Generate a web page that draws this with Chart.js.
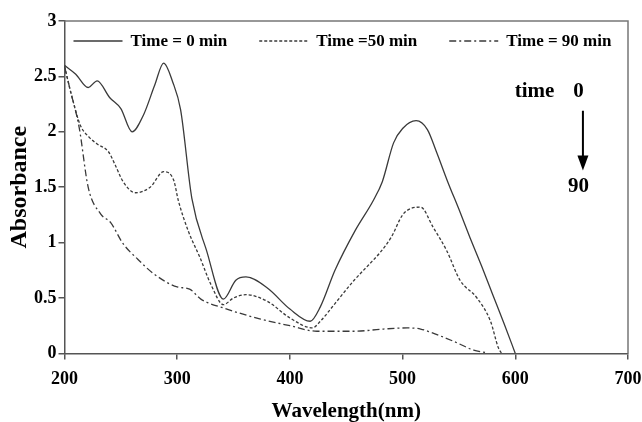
<!DOCTYPE html>
<html>
<head>
<meta charset="utf-8">
<script src="https://cdn.jsdelivr.net/npm/chart.js@4.4.1/dist/chart.umd.min.js"></script>
<style>
  body { margin: 0; background: #fff; }
  #wrap { width: 642px; height: 422px; }
</style>
</head>
<body>
<div id="wrap"><canvas id="chart" width="642" height="422"></canvas></div>
<script>
// Time = 0 min
const wavelength0 = [200, 210, 221, 229, 240, 250, 260, 270, 280, 288, 296, 303, 313, 326, 341, 352, 361, 380, 400, 418,
    427, 440, 458, 474, 482, 492, 500, 512, 522, 530, 540, 550, 560, 570, 580, 590, 600];
const absorbance0 = [2.60, 2.52, 2.40, 2.46, 2.31, 2.21, 2.00, 2.15, 2.42, 2.62, 2.45, 2.20, 1.40, 0.93, 0.49, 0.66, 0.69, 0.59, 0.40, 0.29,
    0.42, 0.75, 1.11, 1.38, 1.55, 1.90, 2.03, 2.10, 2.02, 1.82, 1.55, 1.30, 1.04, 0.79, 0.53, 0.27, 0.00];

// Time = 50 min
const wavelength50 = [200, 207, 214, 222, 229, 239, 245, 252, 263, 276, 288, 297, 301, 310, 320, 330, 341, 350, 361, 380, 400, 420,
    427, 440, 457, 470, 480, 490, 500, 508, 516, 527, 539, 551, 566, 578, 585, 588];
const absorbance50 = [2.59, 2.30, 2.06, 1.95, 1.89, 1.82, 1.70, 1.55, 1.45, 1.50, 1.64, 1.56, 1.38, 1.10, 0.87, 0.62, 0.44, 0.50, 0.53, 0.47, 0.32, 0.23,
    0.29, 0.45, 0.66, 0.80, 0.91, 1.05, 1.25, 1.31, 1.32, 1.14, 0.93, 0.66, 0.50, 0.29, 0.05, 0.00];

// Time = 90 min
const wavelength90 = [200, 205, 213, 221, 232, 241, 252, 265, 279, 300, 311, 321, 341, 374, 400, 424, 457, 483, 504, 516, 525, 545, 563, 575];
const absorbance90 = [2.59, 2.38, 2.04, 1.50, 1.26, 1.18, 0.99, 0.85, 0.72, 0.60, 0.58, 0.49, 0.41, 0.31, 0.25, 0.20, 0.20, 0.22, 0.23, 0.22, 0.19, 0.11, 0.03, 0.005];

const seriesLabels = ['Time = 0 min', 'Time =50 min', 'Time = 90 min'];
const xTicks = [200, 300, 400, 500, 600, 700];
const yTicks = [0, 0.5, 1, 1.5, 2, 2.5, 3];

const FONT = '"Liberation Serif", "Times New Roman", serif';
const LINE = '#3a3a3a';

function toPoints(xs, ys) {
    return xs.map((x, i) => ({ x: x, y: ys[i] }));
}

// frame, in-plot legend and the time arrow note
const extras = {
    id: 'extras',
    afterDraw(chart) {
        const ctx = chart.ctx;
        const area = chart.chartArea;
        const xs = chart.scales.x;
        const ys = chart.scales.y;

        ctx.save();
        ctx.strokeStyle = '#777';
        ctx.lineWidth = 1.5;
        ctx.beginPath();
        ctx.moveTo(area.left, area.top);
        ctx.lineTo(area.right, area.top);
        ctx.lineTo(area.right, area.bottom);
        ctx.stroke();

        // legend
        ctx.font = 'bold 17px ' + FONT;
        ctx.textBaseline = 'middle';
        ctx.fillStyle = '#000';
        let lx = area.left + 9;
        const ly = area.top + 20;
        chart.data.datasets.forEach(ds => {
            ctx.strokeStyle = ds.borderColor;
            ctx.lineWidth = ds.borderWidth;
            ctx.setLineDash(ds.borderDash || []);
            ctx.beginPath();
            ctx.moveTo(lx, ly);
            ctx.lineTo(lx + 49, ly);
            ctx.stroke();
            ctx.setLineDash([]);
            ctx.fillText(ds.label, lx + 57, ly + 1);
            lx += 57 + ctx.measureText(ds.label).width + 32;
        });

        // time 0 -> 90 note
        ctx.font = 'bold 21px ' + FONT;
        ctx.textAlign = 'center';
        ctx.fillText('time', xs.getPixelForValue(617), ys.getPixelForValue(2.36));
        ctx.fillText('0', xs.getPixelForValue(656), ys.getPixelForValue(2.36));
        ctx.fillText('90', xs.getPixelForValue(656), ys.getPixelForValue(1.51));
        const ax = xs.getPixelForValue(660);
        const aTop = ys.getPixelForValue(2.19);
        const aTip = ys.getPixelForValue(1.65);
        ctx.strokeStyle = '#000';
        ctx.lineWidth = 2;
        ctx.beginPath();
        ctx.moveTo(ax, aTop);
        ctx.lineTo(ax, aTip - 12);
        ctx.stroke();
        ctx.beginPath();
        ctx.moveTo(ax - 5.5, aTip - 15);
        ctx.lineTo(ax + 5.5, aTip - 15);
        ctx.lineTo(ax, aTip);
        ctx.closePath();
        ctx.fill();
        ctx.restore();
    }
};

const commonLine = {
    borderColor: LINE,
    borderWidth: 1.3,
    pointRadius: 0,
    fill: false,
    cubicInterpolationMode: 'monotone'
};

new Chart(document.getElementById('chart'), {
    type: 'line',
    data: {
        datasets: [
            Object.assign({ label: seriesLabels[0], data: toPoints(wavelength0, absorbance0), borderDash: [] }, commonLine),
            Object.assign({ label: seriesLabels[1], data: toPoints(wavelength50, absorbance50), borderDash: [3, 2] }, commonLine),
            Object.assign({ label: seriesLabels[2], data: toPoints(wavelength90, absorbance90), borderDash: [7, 3, 2, 3] }, commonLine)
        ]
    },
    options: {
        responsive: false,
        animation: false,
        layout: { padding: { top: 21, right: 0, bottom: 0, left: 8 } },
        plugins: {
            legend: { display: false },
            tooltip: { enabled: false }
        },
        scales: {
            x: {
                type: 'linear',
                min: 200,
                max: 700,
                afterBuildTicks: axis => { axis.ticks = xTicks.map(v => ({ value: v })); },
                afterFit: axis => { axis.paddingRight = 14; },
                grid: { drawOnChartArea: false, tickLength: 6, tickColor: '#555', lineWidth: 1.5 },
                border: { color: '#555', width: 1.5 },
                ticks: { color: '#000', font: { family: FONT, size: 18, weight: 'bold' }, padding: 9, maxRotation: 0 },
                title: { display: true, text: 'Wavelength(nm)', color: '#000', font: { family: FONT, size: 21, weight: 'bold', lineHeight: 1 }, padding: { top: 2, bottom: 0 } }
            },
            y: {
                min: 0,
                max: 3,
                afterBuildTicks: axis => { axis.ticks = yTicks.map(v => ({ value: v })); },
                grid: { drawOnChartArea: false, tickLength: 6, tickColor: '#555', lineWidth: 1.5 },
                border: { color: '#555', width: 1.5 },
                ticks: { color: '#000', font: { family: FONT, size: 18, weight: 'bold' }, padding: 2, callback: v => String(v) },
                title: { display: true, text: 'Absorbance', color: '#000', font: { family: FONT, size: 24, weight: 'bold', lineHeight: 1 }, padding: { top: 0, bottom: 0 } }
            }
        }
    },
    plugins: [extras]
});
</script>
</body>
</html>
